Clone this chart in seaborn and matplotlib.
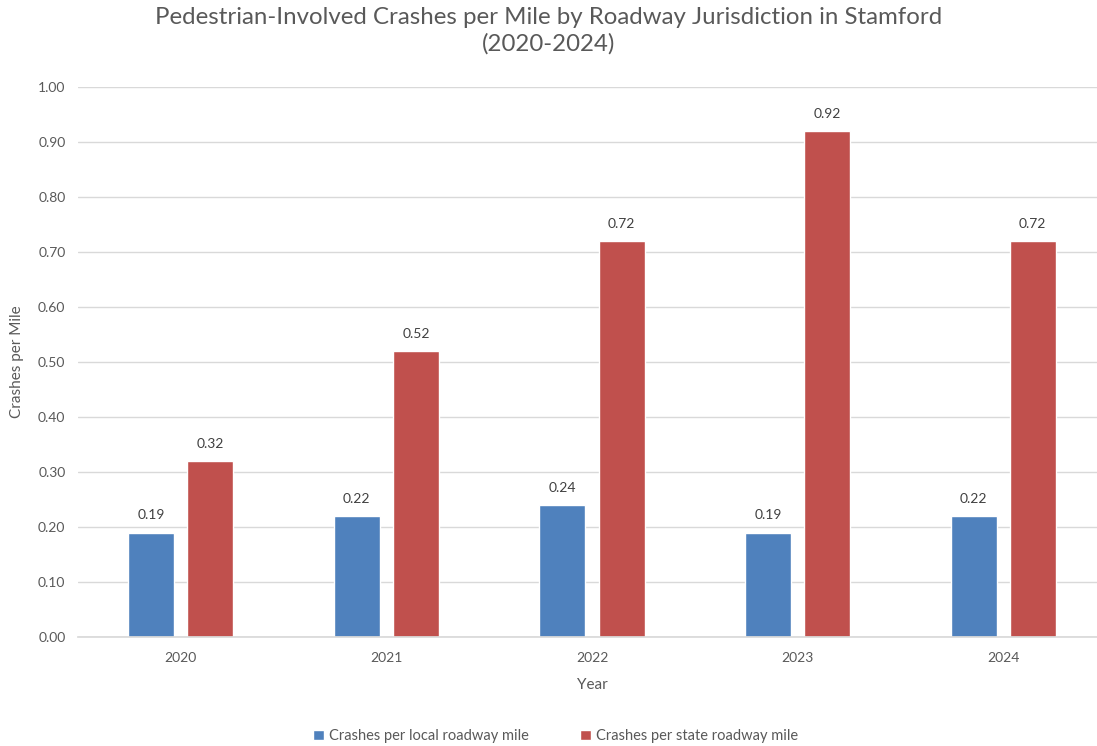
import pandas as pd
import matplotlib.pyplot as plt
import seaborn as sns

# chart data
years = ['2020', '2021', '2022', '2023', '2024']
local_rate = [0.19, 0.22, 0.24, 0.19, 0.22]
state_rate = [0.32, 0.52, 0.72, 0.92, 0.72]
series_names = ['Crashes per local roadway mile', 'Crashes per state roadway mile']

df = pd.DataFrame({
    'Year': years * 2,
    'Rate': local_rate + state_rate,
    'Series': [series_names[0]] * len(years) + [series_names[1]] * len(years),
})

sns.set_theme(style='white')
plt.rcParams['font.family'] = ['Lato', 'DejaVu Sans']
text_col = '#595959'

fig = plt.figure(figsize=(10.97, 7.46), dpi=100)
ax = fig.add_axes([78 / 1097, 109 / 746, 1028 / 1097, 550 / 746])

palette = {series_names[0]: '#4F81BD', series_names[1]: '#C0504D'}
sns.barplot(data=df, x='Year', y='Rate', hue='Series', palette=palette,
            width=0.576, gap=0.22, ax=ax, legend=True, saturation=1)

ax.set_ylim(0, 1.0)
ax.set_yticks([i / 10 for i in range(11)])
ax.set_yticklabels([f'{i / 10:.2f}' for i in range(11)])
ax.yaxis.grid(True, color='#D9D9D9', linewidth=1)
ax.set_axisbelow(True)
for s in ['top', 'right', 'left']:
    ax.spines[s].set_visible(False)
ax.spines['bottom'].set_color('#D9D9D9')
ax.tick_params(axis='both', length=0, labelsize=10, colors=text_col, pad=9)
ax.tick_params(axis='x', pad=11)

# data labels
for cont in ax.containers:
    ax.bar_label(cont, fmt='%.2f', padding=8, fontsize=10, color='#404040')

ax.set_xlabel('Year', fontsize=11, color=text_col, labelpad=10)
ax.set_ylabel('Crashes per Mile', fontsize=11, color=text_col, labelpad=10)

fig.suptitle('Pedestrian-Involved Crashes per Mile by Roadway Jurisdiction in Stamford\n(2020-2024)',
             fontsize=17.3, color=text_col, y=0.99, linespacing=1.25)

ax.legend(loc='center', bbox_to_anchor=(556 / 1097, 10 / 746), bbox_transform=fig.transFigure,
          ncol=2, frameon=False, fontsize=10.5, handlelength=0.7, handleheight=0.7,
          columnspacing=3.5, handletextpad=0.4, labelcolor=text_col)

plt.savefig('out.png', dpi=100)
